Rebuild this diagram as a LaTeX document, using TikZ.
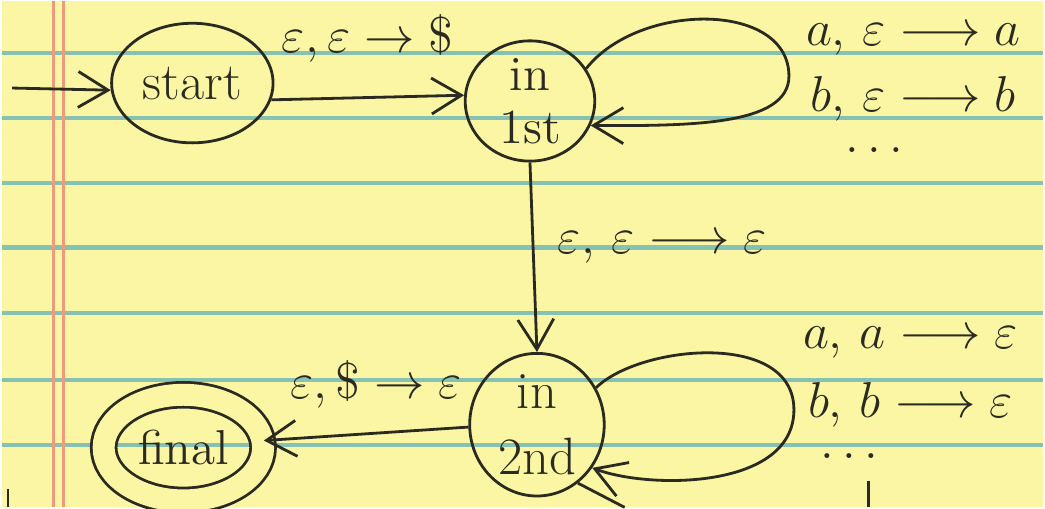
\documentclass[tikz,border=0pt]{standalone}
\usepackage{amsmath}
\usetikzlibrary{arrows.meta,positioning,shapes.geometric}
\definecolor{paper}{HTML}{FAF6A4}
\definecolor{rule}{HTML}{86C2B4}
\definecolor{margin}{HTML}{EE9A7E}
\definecolor{ink}{HTML}{2B2A20}

\begin{document}
\begin{tikzpicture}[x=0.01cm,y=-0.01cm,font=\fontsize{15}{18}\selectfont,>={Straight Barb[length=3mm,width=3.6mm]},
 state/.style={ellipse,draw=ink,thick,inner sep=0pt,align=center,text=ink},
 edge/.style={->,thick,draw=ink},
 lbl/.style={text=ink,inner sep=1pt},
 dots/.style={lbl,inner sep=0pt,text height=0.5ex,text depth=0pt}]
% the sheet
\fill[paper] (0,0) rectangle (1045,508);
\foreach \y in {52,117,182,247,313,380,445}
 \draw[rule,line width=1.2pt] (0,\y) -- (1045,\y);
\draw[margin,line width=0.8pt] (52,0) -- (52,508) (62,0) -- (62,508);
\useasboundingbox (0,0) rectangle (1045,508);
% states
\node[state,minimum width=1.62cm,minimum height=1.2cm] (start) at (191,82) {start};
\node[state,minimum width=1.3cm,minimum height=1.0cm,font=\fontsize{14}{15}\selectfont] (first) at (530,100) {in\\1st};
\node[state,minimum width=1.35cm,minimum height=1.34cm,font=\fontsize{15}{19}\selectfont] (second) at (537,425) {in\\2nd};
\node[state,minimum width=1.6cm,minimum height=1.06cm,double=paper,double distance=0.22cm,font=\fontsize{14}{16}\selectfont] (final) at (182,448) {final};
% transitions
\coordinate (in) at (10,87);
\draw[edge] (in) -- (start.185);
\draw[edge] (start.-12) -- node[lbl,above=3mm] {$\varepsilon,\varepsilon\to\$$} (first.175);
\draw[edge] (first.30) .. controls (640,0) and (790,0) .. (790,75) .. controls (790,125) and (690,125) .. (first.-22);
\draw[edge] (first.south) -- node[lbl,right=2mm,pos=0.45] {$\varepsilon,\,\varepsilon\longrightarrow\varepsilon$} (second.north);
\draw[edge] (second.32) .. controls (640,345) and (795,330) .. (795,410) .. controls (795,490) and (650,490) .. (second.-38);
\draw[edge] (second.182) -- node[lbl,above=2mm,pos=0.45] {$\varepsilon,\$\to\varepsilon$} (final.5);
% stack labels
\node[lbl] (pushA) at (915,38) {$a,\,\varepsilon\longrightarrow a$};
\node[lbl] (pushB) at (915,98) {$b,\,\varepsilon\longrightarrow b$};
\node[dots] (pushDots) at (880,148) {$\dots$};
\node[lbl] (popA) at (912,343) {$a,\,a\longrightarrow\varepsilon$};
\node[lbl] (popB) at (912,405) {$b,\,b\longrightarrow\varepsilon$};
\node[dots] (popDots) at (855,455) {$\dots$};
% cut-off strokes at the foot of the sheet
\draw[thick,ink] (second.-55) -- (625,508);
\draw[thick,ink] (6,490) -- (6,508) (870,482) -- (870,508);
\end{tikzpicture}
\end{document}
